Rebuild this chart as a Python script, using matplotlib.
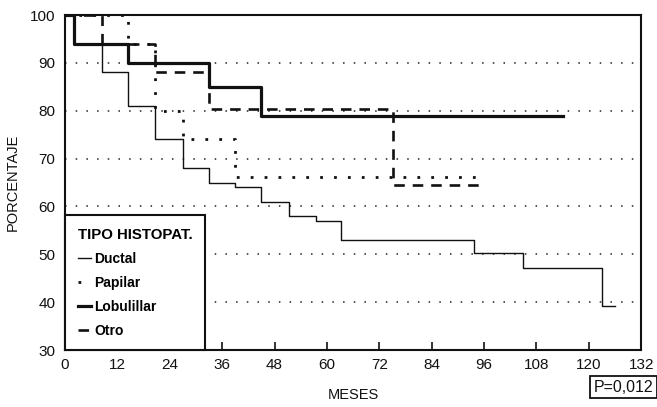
import matplotlib
matplotlib.use("Agg")
import matplotlib.pyplot as plt

plt.rcParams["font.family"] = ["Liberation Sans", "DejaVu Sans"]

# survival curves by histopathological type (months, percent)
ductal_t = [0, 2, 8.5, 14.5, 20.7, 27, 33, 39, 45, 51.3, 57.5, 63.3, 93.6, 105, 123, 126]
ductal_s = [100, 94, 88, 81, 74, 68, 65, 64, 61, 58, 57, 53, 50.3, 47.2, 39.2, 39.2]

papilar_t = [0, 14.5, 20.7, 27, 39, 96]
papilar_s = [100, 94, 80, 74, 66.2, 66.2]

lobulillar_t = [0, 2, 14.5, 33, 45, 114]
lobulillar_s = [100, 94, 90, 85, 79, 79]

otro_t = [0, 8.5, 20.7, 33, 75.2, 96]
otro_s = [100, 94, 88, 80.3, 64.5, 64.5]

x_ticks = list(range(0, 133, 12))
y_ticks = list(range(30, 101, 10))
grid_levels = [40, 50, 60, 70, 80, 90]

ink = "#111111"

fig = plt.figure(figsize=(6.57, 4.07), dpi=100)
ax = fig.add_axes([0.099, 0.140, 0.877, 0.823])

for g in grid_levels:
    ax.axhline(g, color="#222222", lw=1.1, ls=(0, (1, 6)), zorder=1)

ax.step(ductal_t, ductal_s, where="post", color=ink, lw=1.0,
        label="Ductal", zorder=3)
ax.step(papilar_t, papilar_s, where="post", color=ink, lw=2.0,
        ls=(0, (1, 4)), label="Papilar", zorder=3)
ax.step(lobulillar_t, lobulillar_s, where="post", color=ink, lw=2.3,
        label="Lobulillar", zorder=3)
ax.step(otro_t, otro_s, where="post", color=ink, lw=1.9,
        ls=(0, (4, 3)), label="Otro", zorder=3)

ax.set_xlim(0, 132)
ax.set_ylim(30, 100)
ax.set_xticks(x_ticks)
ax.set_yticks(y_ticks)
ax.tick_params(axis="x", direction="in", length=6, width=1.2, pad=6,
               labelsize=11, colors=ink)
ax.tick_params(axis="y", length=0, pad=7, labelsize=11, colors=ink)
for s in ax.spines.values():
    s.set_linewidth(1.5)
    s.set_color(ink)

ax.set_xlabel("MESES", fontsize=10.5, labelpad=11, color=ink)
ax.set_ylabel("PORCENTAJE", fontsize=10.5, labelpad=7, color=ink)

leg = ax.legend(loc="lower left", bbox_to_anchor=(0, 0), borderaxespad=0,
                title="TIPO HISTOPAT.", fancybox=False, framealpha=1,
                edgecolor=ink, handlelength=1.0, handletextpad=0.2,
                labelspacing=0.72, borderpad=0.9,
                prop={"weight": "bold", "size": 10},
                title_fontproperties={"weight": "bold", "size": 10.8},
                alignment="left")
leg.get_frame().set_linewidth(1.5)
leg.set_zorder(5)

fig.text(0.994, 0.048, "P=0,012", ha="right", va="center", fontsize=11.5,
         color=ink,
         bbox=dict(boxstyle="square,pad=0.22", fc="white", ec=ink, lw=1.3))

fig.savefig("out.png", dpi=100)
